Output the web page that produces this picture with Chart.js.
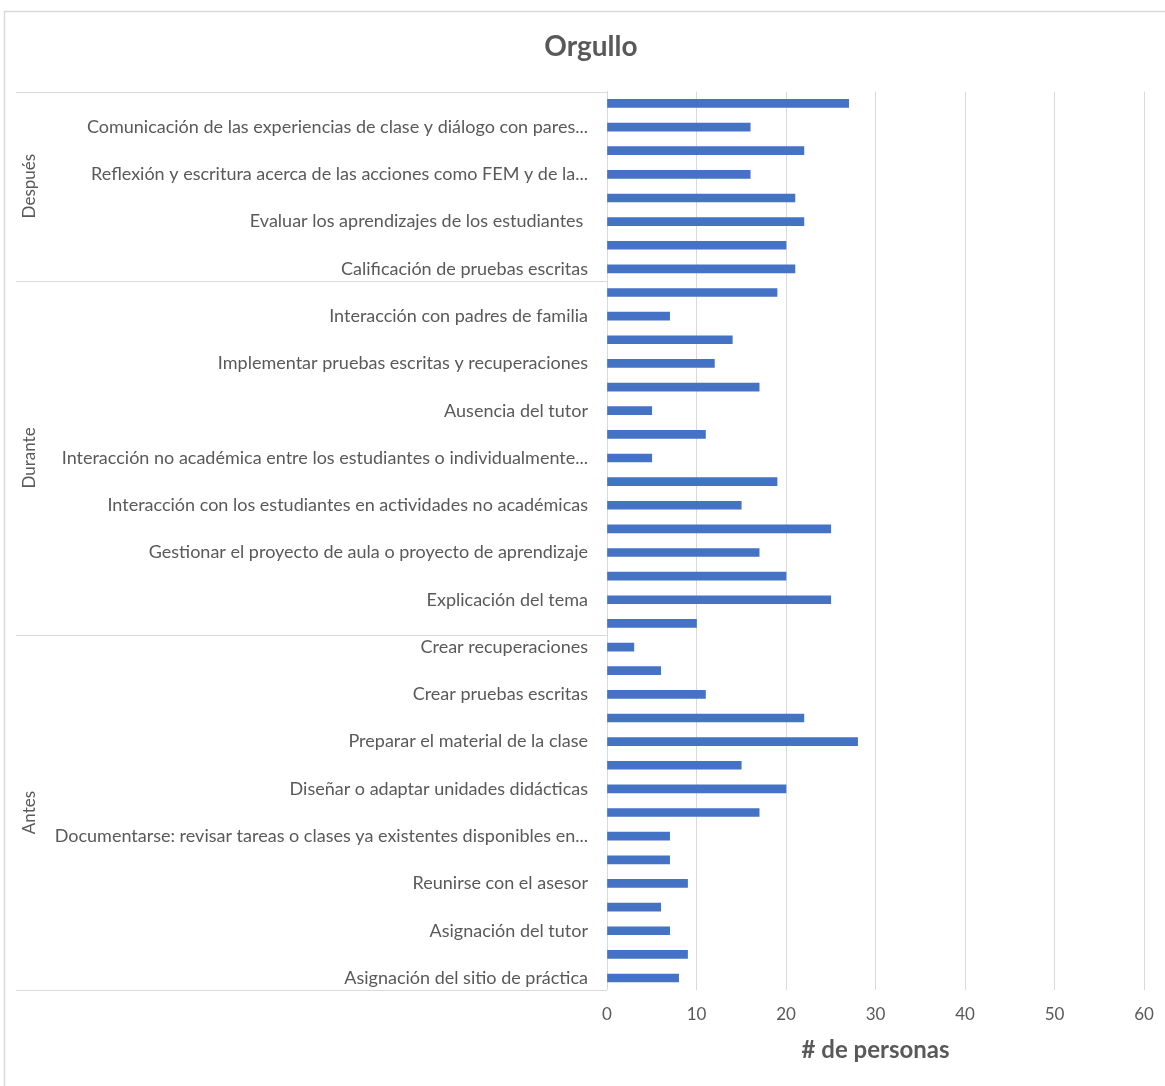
<!DOCTYPE html>
<html lang="es">
<head>
<meta charset="utf-8">
<title>Orgullo</title>
<script src="https://cdn.jsdelivr.net/npm/chart.js@4.4.1/dist/chart.umd.min.js"></script>
<style>
    html, body { margin: 0; padding: 0; background: #ffffff; }
    #wrap { position: relative; width: 1165px; height: 1086px; }
</style>
</head>
<body>
<div id="wrap"><canvas id="prideChart" width="1165" height="1086"></canvas></div>
<script>
// Activity labels, top to bottom (rows without text have no printed label)
const taskLabels = [
    '', 'Comunicación de las experiencias de clase y diálogo con pares...',
    '', 'Reflexión y escritura acerca de las acciones como FEM y de la...',
    '', 'Evaluar los aprendizajes de los estudiantes ',
    '', 'Calificación de pruebas escritas',
    '', 'Interacción con padres de familia',
    '', 'Implementar pruebas escritas y recuperaciones',
    '', 'Ausencia del tutor',
    '', 'Interacción no académica entre los estudiantes o individualmente...',
    '', 'Interacción con los estudiantes en actividades no académicas',
    '', 'Gestionar el proyecto de aula o proyecto de aprendizaje',
    '', 'Explicación del tema',
    '', 'Crear recuperaciones',
    '', 'Crear pruebas escritas',
    '', 'Preparar el material de la clase',
    '', 'Diseñar o adaptar unidades didácticas',
    '', 'Documentarse: revisar tareas o clases ya existentes disponibles en...',
    '', 'Reunirse con el asesor',
    '', 'Asignación del tutor',
    '', 'Asignación del sitio de práctica'
];

// Number of people per activity, same order as taskLabels
const personCounts = [
    27, 16, 22, 16, 21, 22, 20, 21,
    19, 7, 14, 12, 17, 5, 11, 5, 19, 15, 25, 17, 20, 25, 10,
    3, 6, 11, 22, 28, 15, 20, 17, 7, 7, 9, 6, 7, 9, 8
];

// Phase groups and how many rows each one spans
const phaseNames = ['Después', 'Durante', 'Antes'];
const phaseSizes = [8, 15, 15];

const xTicks = [0, 10, 20, 30, 40, 50, 60];

const TEXT_COLOR = '#595959';
const LINE_COLOR = '#d9d9d9';
const FONT = 'Lato, "Open Sans", sans-serif';

// Draws the outer frame, the phase separators and the rotated phase names
const phasePlugin = {
    id: 'phaseGroups',
    beforeDraw(chart) {
        const ctx = chart.ctx;
        ctx.save();
        ctx.strokeStyle = LINE_COLOR;
        ctx.lineWidth = 1.5;
        ctx.beginPath();
        ctx.moveTo(4.5, chart.height);
        ctx.lineTo(4.5, 11.5);
        ctx.lineTo(chart.width, 11.5);
        ctx.stroke();
        ctx.restore();
    },
    afterDraw(chart) {
        const ctx = chart.ctx;
        const y = chart.scales.y;
        const left = 16;
        const right = chart.chartArea.left;
        const half = (y.getPixelForValue(1) - y.getPixelForValue(0)) / 2;

        ctx.save();
        ctx.strokeStyle = LINE_COLOR;
        ctx.lineWidth = 1;
        ctx.fillStyle = TEXT_COLOR;
        ctx.font = '17px ' + FONT;
        ctx.textAlign = 'center';
        ctx.textBaseline = 'middle';

        let start = 0;
        phaseNames.forEach((name, i) => {
            const end = start + phaseSizes[i] - 1;
            const top = y.getPixelForValue(start) - half;
            const bottom = y.getPixelForValue(end) + half;

            ctx.beginPath();
            if (i === 0) {
                ctx.moveTo(left, Math.round(top) + 0.5);
                ctx.lineTo(right, Math.round(top) + 0.5);
            }
            ctx.moveTo(left, Math.round(bottom) + 0.5);
            ctx.lineTo(right, Math.round(bottom) + 0.5);
            ctx.stroke();

            ctx.save();
            ctx.translate(30, (top + bottom) / 2);
            ctx.rotate(-Math.PI / 2);
            ctx.fillText(name, 0, 0);
            ctx.restore();

            start = end + 1;
        });
        ctx.restore();
    }
};

new Chart(document.getElementById('prideChart'), {
    type: 'bar',
    data: {
        labels: taskLabels,
        datasets: [{
            label: '# de personas',
            data: personCounts,
            backgroundColor: '#4472C4',
            borderWidth: 0,
            barThickness: 8
        }]
    },
    options: {
        indexAxis: 'y',
        responsive: false,
        animation: false,
        layout: {
            padding: { left: 29, right: 12, top: 0, bottom: 21 }
        },
        plugins: {
            legend: { display: false },
            tooltip: { enabled: false },
            title: {
                display: true,
                text: 'Orgullo',
                color: TEXT_COLOR,
                font: { family: FONT, size: 28, weight: 'bold' },
                padding: { top: 30, bottom: 28 }
            }
        },
        scales: {
            x: {
                min: 0,
                max: 60,
                afterBuildTicks(scale) {
                    scale.ticks = xTicks.map(v => ({ value: v }));
                },
                afterFit(scale) {
                    // space kept to the right of the last grid line
                    scale.paddingRight = 21;
                },
                grid: {
                    color: LINE_COLOR,
                    lineWidth: 1,
                    drawTicks: false
                },
                border: { display: false },
                ticks: {
                    color: TEXT_COLOR,
                    font: { family: FONT, size: 17 },
                    padding: 15
                },
                title: {
                    display: true,
                    text: '# de personas',
                    color: TEXT_COLOR,
                    font: { family: FONT, size: 24, weight: 'bold' },
                    padding: { top: -4, bottom: 0 }
                }
            },
            y: {
                afterFit(scale) {
                    scale.width = 578;
                },
                grid: { display: false, drawTicks: false },
                border: { display: true, color: LINE_COLOR, width: 1 },
                ticks: {
                    autoSkip: false,
                    color: TEXT_COLOR,
                    font: { family: FONT, size: 18 },
                    padding: 19
                }
            }
        }
    },
    plugins: [phasePlugin]
});
</script>
</body>
</html>
